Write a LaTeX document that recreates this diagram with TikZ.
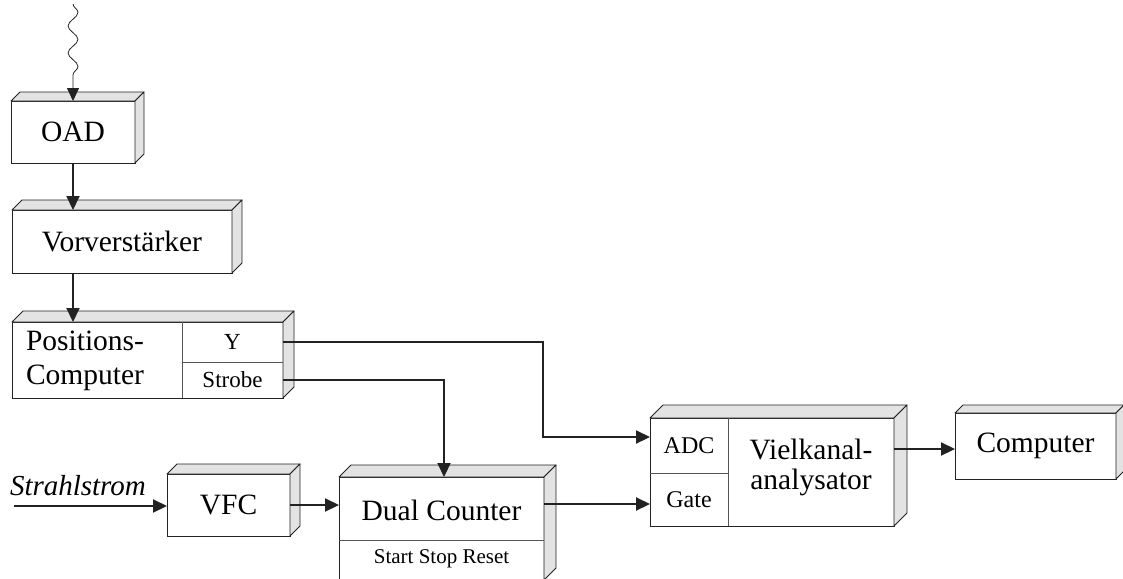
\documentclass[tikz,border=0pt]{standalone}
\usepackage{fontspec}
\setmainfont{Liberation Serif}
\usetikzlibrary{arrows.meta,decorations.pathmorphing,calc}
\definecolor{facegray}{HTML}{E3E3E3}
\definecolor{edge}{HTML}{222222}
\definecolor{divgray}{HTML}{555555}
\newcommand\boxfaces[2]{%
  \filldraw[face] (#1.north west) -- ++(#2,-#2) -- ($(#1.north east)+(#2,-#2)$) -- (#1.north east) -- cycle;
  \filldraw[face] (#1.north east) -- ++(#2,-#2) -- ($(#1.south east)+(#2,-#2)$) -- (#1.south east) -- cycle;
}
\tikzset{
  box/.style={draw=edge, fill=white, line width=0.9pt, inner sep=0pt, outer sep=0pt, align=center,
    font=\fontsize{29.5}{33}\selectfont},
  face/.style={fill=facegray, draw=edge, line width=0.9pt, line join=round},
  lbl/.style={inner sep=0pt, outer sep=0pt, align=center, font=\fontsize{29.5}{33}\selectfont},
  cell/.style={inner sep=0pt, outer sep=0pt, align=center, font=\fontsize{23}{26}\selectfont},
  divline/.style={draw=divgray, line width=0.8pt},
  arr/.style={draw=edge, line width=2.1pt, -{Triangle[length=14pt,width=13pt]}},
  wavy/.style={draw=edge, line width=0.8pt, decorate,
    decoration={snake, amplitude=5pt, segment length=27pt, post length=13pt},
    -{Triangle[length=13pt,width=12pt]}},
}
\begin{document}
\begin{tikzpicture}[x=1pt,y=-1pt]
\useasboundingbox (0,0) rectangle (1123,578);
\clip (0,0) rectangle (1123,578);

% OAD
\node[box, minimum width=124pt, minimum height=62pt] (oad) at (73,132) {OAD};
\boxfaces{oad}{9}
% Vorverstaerker
\node[box, minimum width=220pt, minimum height=63pt] (vorv) at (122,241.5) {Vorverstärker};
\boxfaces{vorv}{10}
% Positions-Computer
\node[box, minimum width=271pt, minimum height=76pt] (pos) at (147.5,360) {};
\boxfaces{pos}{11}
\node[lbl, align=left, anchor=west, font=\fontsize{29.5}{34}\selectfont] (posT) at (26,361) {Positions-\\Computer};
\node[cell, minimum width=101pt, minimum height=40pt] (posY) at (232.5,342) {Y};
\node[cell, minimum width=101pt, minimum height=36pt] (posS) at (232.5,380) {Strobe};
\draw[divline] (posY.north west) -- (posS.south west);
\draw[divline] (posY.south west) -- (posY.south east);
% VFC
\node[box, minimum width=123pt, minimum height=62pt] (vfc) at (228.5,505) {VFC};
\boxfaces{vfc}{10}
% Strahlstrom
\node[lbl, anchor=base west, font=\fontsize{29}{32}\selectfont\itshape] (strahl) at (10,495) {Strahlstrom};
\coordinate (sin) at (14,506);
% Dual Counter
\node[box, minimum width=205pt, minimum height=103pt] (dual) at (441.5,528.5) {};
\boxfaces{dual}{12}
\node[lbl] (dualT) at (441.5,510) {Dual Counter};
\node[cell, font=\fontsize{21}{24}\selectfont] (dualB) at (441.5,559) {Start Stop Reset};
\draw[divline] ([yshift=-63pt]dual.north west) -- ([yshift=-63pt]dual.north east);
% Vielkanalanalysator
\node[box, minimum width=244pt, minimum height=108pt] (vka) at (772,472) {};
\boxfaces{vka}{13}
\node[cell, minimum width=78pt, minimum height=55pt, font=\fontsize{24}{28}\selectfont] (adc) at (689,445.5) {ADC};
\node[cell, minimum width=78pt, minimum height=53pt, font=\fontsize{24}{28}\selectfont] (gate) at (689,499.5) {Gate};
\draw[divline] (adc.north east) -- (gate.south east);
\draw[divline] (adc.south west) -- (adc.south east);
\node[lbl, font=\fontsize{29.5}{30}\selectfont] (vkaT) at (811,467) {Vielkanal-\\analysator};
% Computer
\node[box, minimum width=161pt, minimum height=66pt] (comp) at (1035.5,446) {Computer};
\boxfaces{comp}{8}

% connectors
\coordinate (wtop) at (73,4);
\coordinate (ybend) at (543,400);
\coordinate (adcin) at ([yshift=8.5pt]adc.west);
\coordinate (gatein) at ([yshift=-4.5pt]gate.west);
\coordinate (compin) at ([yshift=-3pt]comp.west);
\draw[wavy] (wtop) -- (oad.north);
\draw[arr] (oad.south) -- (oad.south |- vorv.north);
\draw[arr] (oad.south |- vorv.south) -- (oad.south |- pos.north);
\draw[arr] (posY.east) -- (posY.east -| ybend) -- (ybend |- adcin) -- (adcin);
\draw[arr] (posS.east) -| ([xshift=2.5pt]dual.north);
\draw[arr] (sin) -- (sin -| vfc.west);
\draw[arr] (vfc.east) -- (vfc.east -| dual.west);
\draw[arr] (gatein -| dual.east) -- (gatein);
\draw[arr] (compin -| vka.east) -- (compin);
\end{tikzpicture}
\end{document}
